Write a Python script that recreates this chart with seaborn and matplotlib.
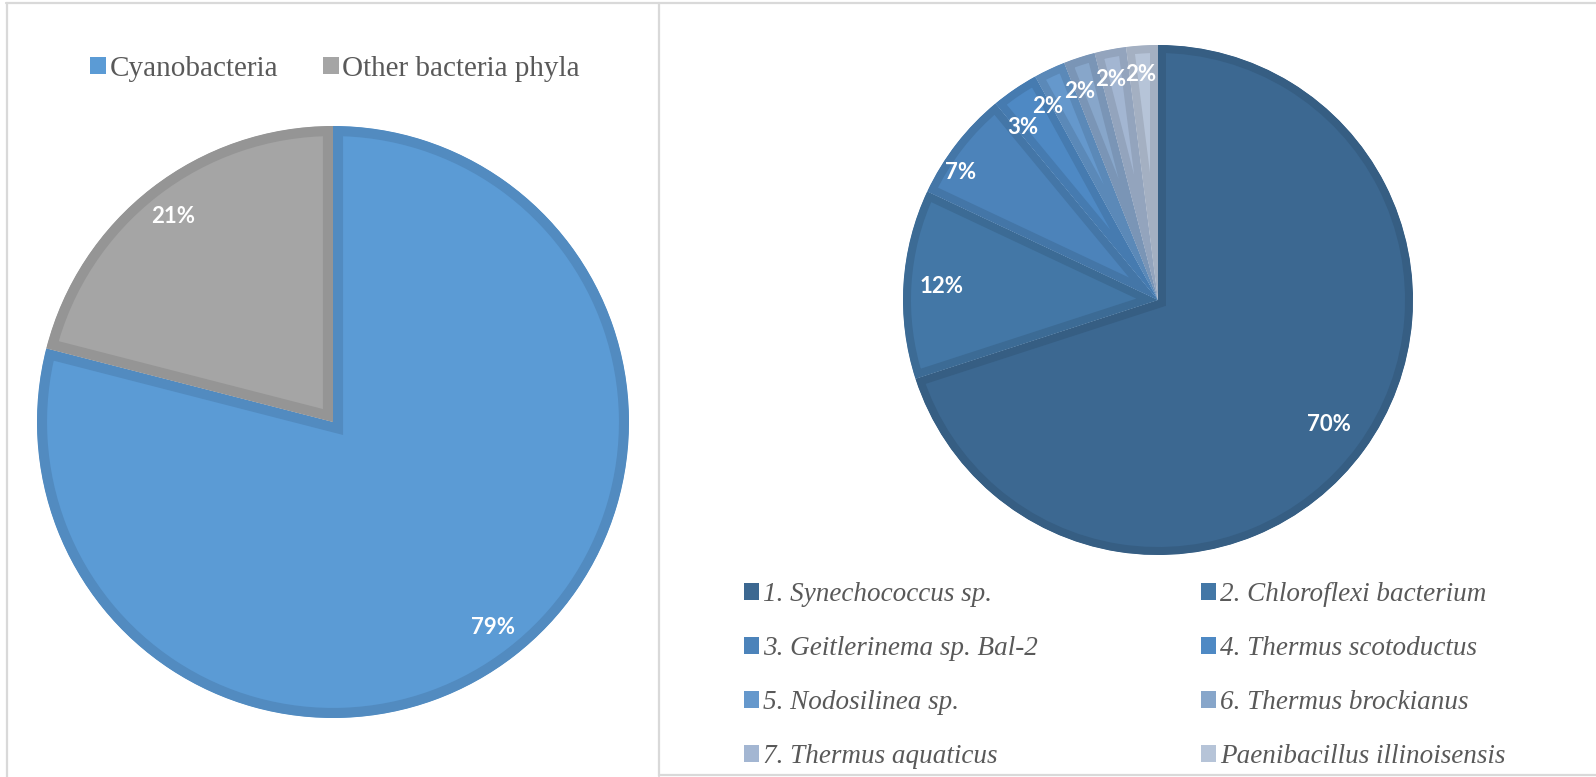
import matplotlib
matplotlib.use("Agg")
import matplotlib.pyplot as plt
from matplotlib.lines import Line2D
from matplotlib.patches import Patch
import numpy as np
import seaborn as sns

# ---- data ----
phylum_labels = ["Cyanobacteria", "Other bacteria phyla"]
phylum_pct = [79, 21]

species_labels = [
    "1. Synechococcus sp.",
    "2. Chloroflexi bacterium",
    "3. Geitlerinema sp. Bal-2",
    "4. Thermus scotoductus",
    "5. Nodosilinea sp.",
    "6. Thermus brockianus",
    "7. Thermus aquaticus",
    "Paenibacillus illinoisensis",
]
species_pct = [70, 12, 7, 3, 2, 2, 2, 2]

# ---- style ----
sns.set_theme(style="white")
plt.rcParams["font.family"] = ["Liberation Serif", "DejaVu Serif"]

phylum_colors = ["#5b9bd5", "#a5a5a5"]
species_colors = ["#3c6891", "#4377a6", "#4c83ba", "#4e89c4",
                  "#6598cc", "#87a6ca", "#a3b6d2", "#b6c4d8"]

W, H = 1596, 777
fig = plt.figure(figsize=(W / 100, H / 100), dpi=100)
fig.patch.set_facecolor("white")


def px_axes(cx, cy, r):
    """Square axes centred on (cx, cy) in pixel coords (origin top-left)."""
    ax = fig.add_axes([(cx - r) / W, (H - cy - r) / H, 2 * r / W, 2 * r / H])
    ax.axis("off")
    return ax


def shade(c, f):
    rgb = np.array(matplotlib.colors.to_rgb(c))
    return tuple(rgb * f)


def bevel_pie(ax, values, colors, band_lw, pct_dist, nudges):
    wedges, _ = ax.pie(values, colors=colors, startangle=90, counterclock=False,
                       radius=1.0, wedgeprops=dict(linewidth=0))
    ax.set_xlim(-1, 1)
    ax.set_ylim(-1, 1)
    ax.set_aspect("equal")
    # darker inner band: a thick edge stroke clipped to the wedge itself
    for w, c in zip(wedges, colors):
        w.set_edgecolor(shade(c, 0.9))
        w.set_linewidth(band_lw)
        w.set_joinstyle("miter")
        w.set_clip_on(True)
        w.set_clip_path(w)
    for w, v, d, n in zip(wedges, values, pct_dist, nudges):
        ang = np.deg2rad((w.theta1 + w.theta2) / 2 + n)
        ax.text(d * np.cos(ang), d * np.sin(ang), f"{v}%", ha="center", va="center",
                color="white", fontsize=16, fontweight="bold", family="Lato")
    return wedges


# ---- left pie: phyla ----
axL = px_axes(333, 422, 296)
bevel_pie(axL, phylum_pct, phylum_colors, 14.5, [0.88, 0.88], [0, 0])

fig.legend(handles=[Patch(facecolor=c, edgecolor="none") for c in phylum_colors],
           labels=phylum_labels, loc="center", bbox_to_anchor=(335 / W, 1 - 69 / H),
           ncol=2, frameon=False, fontsize=21, handlelength=0.55, handleheight=0.55,
           handletextpad=0.1, columnspacing=1.55, labelcolor="#595959", borderpad=0)

# ---- right pie: species ----
axR = px_axes(1158, 300, 255)
bevel_pie(axR, species_pct, species_colors, 11.5,
          [0.83, 0.85, 0.92, 0.86, 0.875, 0.875, 0.885, 0.885],
          [0, 0, 5, 4, 4.5, 2.5, 1.2, 0.7])

handles = [Patch(facecolor=c, edgecolor="none") for c in species_colors]
for col, x0 in enumerate([744, 1201]):
    idx = list(range(col, 8, 2))
    fig.legend(handles=[handles[i] for i in idx], labels=[species_labels[i] for i in idx],
               loc="upper left", bbox_to_anchor=(x0 / W, 1 - 582 / H), frameon=False,
               prop=dict(family="Liberation Serif", style="italic", size=19.5),
               handlelength=0.55, handleheight=0.55, handletextpad=0.15,
               labelspacing=1.07, labelcolor="#595959", borderpad=0, borderaxespad=0)

# ---- panel frames ----
frame_kw = dict(color="#d9d9d9", linewidth=1.6, transform=fig.transFigure)


def hline(y, x0, x1):
    fig.add_artist(Line2D([x0 / W, x1 / W], [1 - y / H, 1 - y / H], **frame_kw))


def vline(x, y0, y1):
    fig.add_artist(Line2D([x / W, x / W], [1 - y0 / H, 1 - y1 / H], **frame_kw))


hline(3, 6, W)
vline(6.5, 3, H)
vline(659, 3, 776)
hline(775, 659, W)

fig.savefig("out.png", dpi=100, facecolor="white")
